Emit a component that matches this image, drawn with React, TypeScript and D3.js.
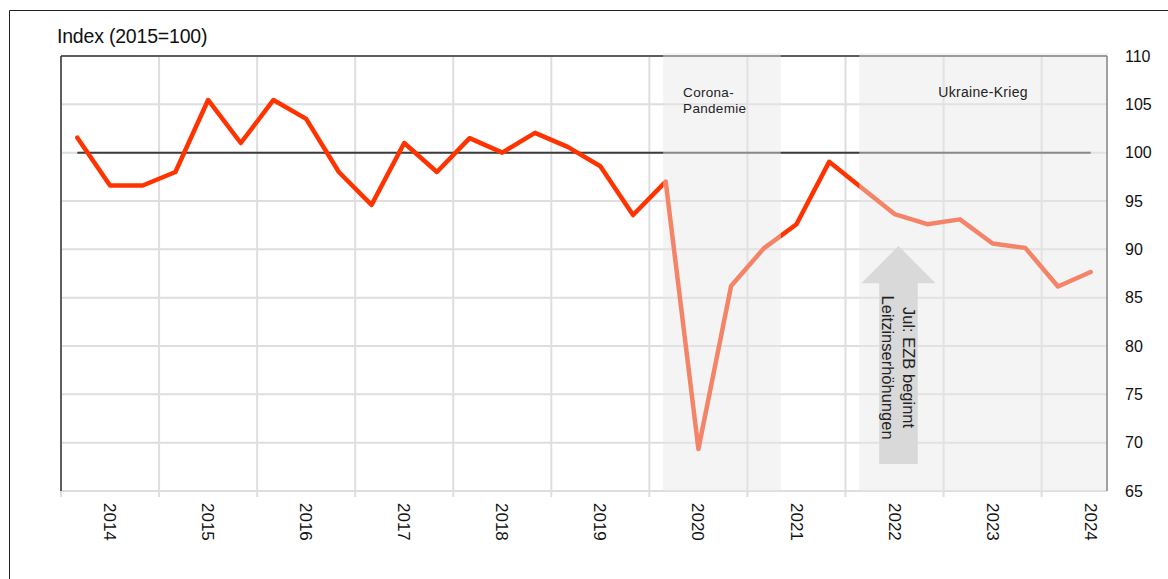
import React from "react";
import * as d3 from "d3";

// ---- data ----
const firstYear = 2014;
const pointsPerYear = 3;
const years = [2014, 2015, 2016, 2017, 2018, 2019, 2020, 2021, 2022, 2023, 2024];
const values = [
  101.55, 96.6, 96.6, 98.0, 105.45, 101.0, 105.45, 103.5, 98.0, 94.6,
  101.0, 98.0, 101.5, 100.0, 102.05, 100.6, 98.6, 93.55, 97.0, 69.35,
  86.2, 90.1, 92.6, 99.05, 96.35, 93.65, 92.6, 93.1, 90.6, 90.15,
  86.15, 87.65,
];
const yTicks = [65, 70, 75, 80, 85, 90, 95, 100, 105, 110];
const referenceValue = 100;
const phaseLabels = [["Corona-", "Pandemie"], ["Ukraine-Krieg"]];
const phaseStarts = [2020.14, 2022.14];
const phaseEnds = [2021.33, firstYear + values.length / pointsPerYear];
const arrowDate = 2022.54;
const arrowTop = 90.35;
const arrowHeadBase = 86.5;
const arrowBottom = 67.8;
const arrowLines = ["Jul: EZB beginnt", "Leitzinserhöhungen"];
const yTitle = "Index (2015=100)";

const FONT = "'Liberation Sans', Arial, Helvetica, sans-serif";

export default function App() {
  const W = 1168;
  const H = 579;
  const left = 61;
  const right = 1107;
  const top = 56;
  const bottom = 491;

  const x = d3
    .scaleLinear()
    .domain([firstYear, firstYear + values.length / pointsPerYear])
    .range([left, right]);
  const y = d3.scaleLinear().domain([65, 110]).range([bottom, top]);

  const px = (i: number) => x(firstYear + (i + 0.5) / pointsPerYear);
  const line = d3
    .line<number>()
    .x((_, i) => px(i))
    .y((d) => y(d));

  const ax = x(arrowDate);
  const shaftHalf = 19.3;
  const headHalf = 37;
  const arrowPath = [
    [ax, y(arrowTop)],
    [ax + headHalf, y(arrowHeadBase)],
    [ax + shaftHalf, y(arrowHeadBase)],
    [ax + shaftHalf, y(arrowBottom)],
    [ax - shaftHalf, y(arrowBottom)],
    [ax - shaftHalf, y(arrowHeadBase)],
    [ax - headHalf, y(arrowHeadBase)],
  ];
  const arrowD = "M" + arrowPath.map((p) => p.join(",")).join("L") + "Z";
  const arrowMidY = (y(arrowHeadBase) + y(arrowBottom)) / 2 - 6;

  return (
    <svg
      width={W}
      height={H}
      style={{ position: "absolute", left: 0, top: 0, background: "#fff" }}
      fontFamily={FONT}
    >
      {/* outer frame */}
      <line x1={9.5} y1={10.5} x2={W} y2={10.5} stroke="#222" strokeWidth={1} />
      <line x1={9.5} y1={10.5} x2={9.5} y2={H} stroke="#222" strokeWidth={1} />

      {/* title */}
      <text x={57} y={43} fontSize={19.5} fill="#111" letterSpacing={-0.2}>
        {yTitle}
      </text>

      {/* horizontal grid */}
      {yTicks.map((t) => (
        <line
          key={"h" + t}
          x1={left}
          x2={right}
          y1={y(t)}
          y2={y(t)}
          stroke="#dedede"
          strokeWidth={2}
        />
      ))}
      {/* vertical grid at year boundaries */}
      {years.map((yr) => (
        <line
          key={"v" + yr}
          x1={x(yr)}
          x2={x(yr)}
          y1={top}
          y2={bottom + 6}
          stroke="#dedede"
          strokeWidth={2}
        />
      ))}

      {/* plot frame */}
      <line x1={left} x2={right} y1={top} y2={top} stroke="#333" strokeWidth={1.5} />
      <line x1={left} x2={left} y1={top} y2={bottom} stroke="#333" strokeWidth={1.5} />
      <line x1={right} x2={right} y1={top} y2={bottom} stroke="#333" strokeWidth={1.5} />

      {/* reference line */}
      <line
        x1={px(0)}
        x2={px(values.length - 1)}
        y1={y(referenceValue)}
        y2={y(referenceValue)}
        stroke="#3c3c3c"
        strokeWidth={2}
      />

      {/* data line */}
      <path
        d={line(values) || ""}
        fill="none"
        stroke="#ff3300"
        strokeWidth={4.5}
        strokeLinejoin="round"
        strokeLinecap="round"
      />

      {/* phase shading overlays */}
      {phaseStarts.map((s, k) => (
        <rect
          key={"p" + k}
          x={x(s)}
          y={top - 3}
          width={x(phaseEnds[k]) - x(s) + 1}
          height={bottom - top + 3}
          fill="rgb(230,230,230)"
          fillOpacity={0.45}
        />
      ))}

      {/* phase labels */}
      <text x={x(phaseStarts[0]) + 20} y={97} fontSize={13.5} fill="#222" letterSpacing={0.3}>
        <tspan x={x(phaseStarts[0]) + 20} y={97}>
          {phaseLabels[0][0]}
        </tspan>
        <tspan x={x(phaseStarts[0]) + 20} y={112.5}>
          {phaseLabels[0][1]}
        </tspan>
      </text>
      <text
        x={(x(phaseStarts[1]) + x(phaseEnds[1])) / 2}
        y={97}
        fontSize={14}
        fill="#222"
        textAnchor="middle"
        letterSpacing={0.3}
      >
        {phaseLabels[1][0]}
      </text>

      {/* arrow */}
      <path d={arrowD} fill="#d9d9d9" />
      <g transform={`translate(${ax},${arrowMidY}) rotate(90)`}>
        {arrowLines.map((t, i) => (
          <text
            key={t}
            x={0}
            y={(i - 0.5) * 21}
            dy="0.35em"
            fontSize={16.5}
            fill="#222"
            textAnchor="middle"
          >
            {t}
          </text>
        ))}
      </g>

      {/* right axis labels */}
      {yTicks.map((t) => (
        <text
          key={"yt" + t}
          x={1125}
          y={y(t)}
          dy="0.35em"
          fontSize={16}
          fill="#111"
        >
          {t}
        </text>
      ))}

      {/* year labels */}
      {years.map((yr) => (
        <text
          key={"yl" + yr}
          transform={`translate(${x(yr + 0.5)},503) rotate(90)`}
          dy="0.35em"
          fontSize={17}
          fill="#111"
        >
          {yr}
        </text>
      ))}
    </svg>
  );
}
